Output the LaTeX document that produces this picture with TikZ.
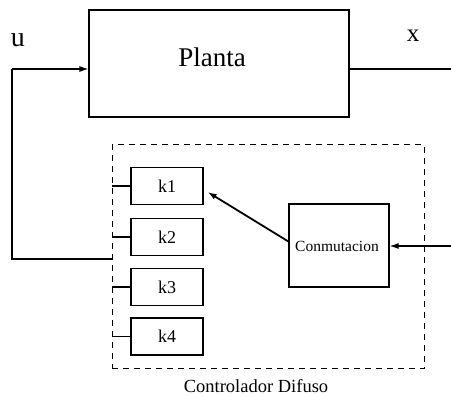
\documentclass[tikz,border=0pt]{standalone}
\usepackage{fontspec}
\setmainfont{Liberation Serif}
\usetikzlibrary{arrows.meta}
\begin{document}
\begin{tikzpicture}[x=1pt,y=-1pt,
  blk/.style={draw,line width=1.2pt,inner sep=0pt},
  kbox/.style={blk,minimum width=72pt,minimum height=37pt,font=\fontsize{18}{20}\selectfont},
  wire/.style={line width=1.2pt},
  tip/.style={-{Latex[length=9pt,width=6pt]}},
  lbl/.style={inner sep=0pt}]
\useasboundingbox (0,0) rectangle (451,396);

% plant
\node[blk,minimum width=260pt,minimum height=107pt,
      label={[xshift=-7pt,yshift=6pt,font=\fontsize{27}{30}\selectfont]center:Planta}]
      (planta) at (219,63.5) {};
\coordinate (uin) at (12,69);
\coordinate (xout) at (451,69);
\node[lbl,font=\fontsize{28}{30}\selectfont] (ulbl) at (18,40) {u};
\node[lbl,font=\fontsize{25}{30}\selectfont] (xlbl) at (413,36) {x};

% fuzzy controller frame
\node[draw,dashed,line width=1pt,dash pattern=on 6pt off 5pt,inner sep=0pt,
      minimum width=312pt,minimum height=224pt] (fuzzy) at (268,257) {};
\node[lbl,font=\fontsize{18.5}{20}\selectfont] (fuzzylbl) at (256,386) {Controlador Difuso};

% gain blocks
\node[kbox] (k1) at (167,186) {k1};
\node[kbox] (k2) at (167,237) {k2};
\node[kbox] (k3) at (167,287) {k3};
\node[kbox] (k4) at (167,336.5) {k4};

% switching block
\node[blk,minimum width=100pt,minimum height=83pt] (conm) at (339,245.5) {};
\node[lbl,font=\fontsize{15.5}{18}\selectfont] (conmlbl) at (337,246) {Conmutacion};
\coordinate (cin) at (451,246);

% signals
\draw[wire,tip] (uin) -- (uin -| planta.west);
\draw[wire] (planta.east |- xout) -- (xout);
\draw[wire] (uin) -- (12,259) -- (fuzzy.west |- 0,259);
\foreach \k in {k1,k2,k3,k4}
  \draw[wire] (fuzzy.west |- \k.west) -- (\k.west);
\draw[line width=1.8pt,tip] ([yshift=4pt]conm.west) -- ([shift={(4pt,-6pt)}]k1.east);
\draw[wire,tip] (cin) -- (conm.east |- cin);
\end{tikzpicture}
\end{document}
